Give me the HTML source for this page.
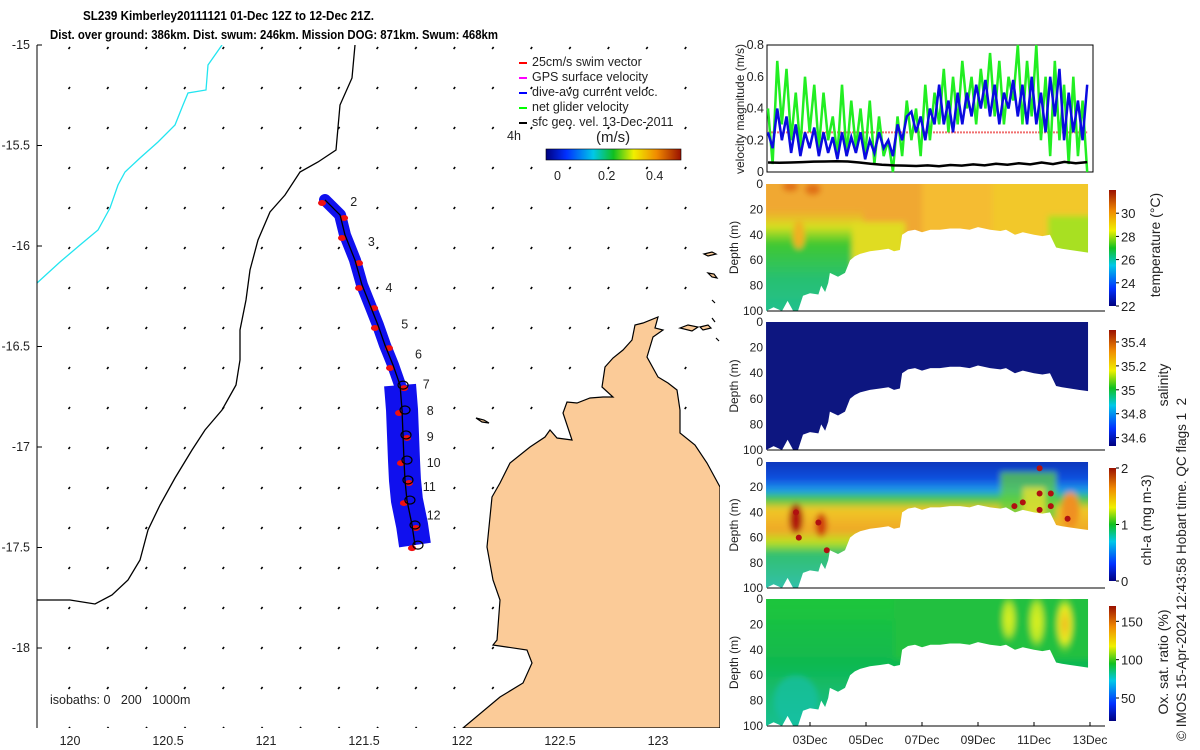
<!DOCTYPE html>
<html><head><meta charset="utf-8"><title>SL239 Kimberley glider</title>
<style>
html,body{margin:0;padding:0;background:#fff;}
svg{display:block;font-family:"Liberation Sans",sans-serif;}
text{fill:#222;}
</style></head>
<body>
<svg id="fig" width="1200" height="750" viewBox="0 0 1200 750">
<defs>
<filter id="blur" x="-5%" y="-5%" width="110%" height="110%"><feGaussianBlur stdDeviation="3"/></filter>
<linearGradient id="jet" x1="0" y1="0" x2="1" y2="0">
<stop offset="0" stop-color="#00007f"/><stop offset="0.15" stop-color="#0030ff"/><stop offset="0.35" stop-color="#00c8e8"/><stop offset="0.5" stop-color="#10c020"/><stop offset="0.65" stop-color="#f0f000"/><stop offset="0.82" stop-color="#f08a00"/><stop offset="1" stop-color="#9a1000"/>
</linearGradient>
<linearGradient id="jetv" x1="0" y1="1" x2="0" y2="0">
<stop offset="0" stop-color="#00007f"/><stop offset="0.15" stop-color="#0030ff"/><stop offset="0.35" stop-color="#00c8e8"/><stop offset="0.5" stop-color="#10c020"/><stop offset="0.65" stop-color="#f0f000"/><stop offset="0.82" stop-color="#f08a00"/><stop offset="1" stop-color="#9a1000"/>
</linearGradient>
<linearGradient id="tempEarly" x1="0" y1="0" x2="0" y2="1">
<stop offset="0" stop-color="#e0d020" stop-opacity="0"/><stop offset="0.15" stop-color="#d8e020"/><stop offset="0.3" stop-color="#40c830"/><stop offset="0.6" stop-color="#28c070"/><stop offset="1" stop-color="#20c098"/>
</linearGradient>
<linearGradient id="chlGrad" x1="0" y1="0" x2="0" y2="1">
<stop offset="0" stop-color="#0828a8"/><stop offset="0.18" stop-color="#1050e0"/><stop offset="0.26" stop-color="#20a0e8"/><stop offset="0.31" stop-color="#40c850"/><stop offset="0.38" stop-color="#f0c828"/><stop offset="0.52" stop-color="#f0a828"/><stop offset="0.6" stop-color="#c0e020"/><stop offset="0.68" stop-color="#30c070"/><stop offset="1" stop-color="#30c0c0"/>
</linearGradient>
<linearGradient id="oxGrad" x1="0" y1="0" x2="0" y2="1">
<stop offset="0" stop-color="#20c838"/><stop offset="0.5" stop-color="#10b850"/><stop offset="1" stop-color="#18c0a0"/>
</linearGradient>
<radialGradient id="oxBlob"><stop offset="0" stop-color="#f0b020"/><stop offset="0.55" stop-color="#e8f020"/><stop offset="1" stop-color="#30c840" stop-opacity="0"/></radialGradient>
<radialGradient id="oxBlob2"><stop offset="0" stop-color="#e0f020"/><stop offset="0.6" stop-color="#b8e828"/><stop offset="1" stop-color="#30c840" stop-opacity="0"/></radialGradient>
<clipPath id="mapClip"><rect x="37" y="45" width="683" height="683"/></clipPath>
</defs>

<!-- Title -->
<text x="83" y="20" font-size="13" font-weight="bold" textLength="291" lengthAdjust="spacingAndGlyphs" style="fill:#000">SL239 Kimberley20111121 01-Dec 12Z to 12-Dec 21Z.</text>
<text x="50" y="39" font-size="13" font-weight="bold" textLength="448" lengthAdjust="spacingAndGlyphs" style="fill:#000">Dist. over ground: 386km. Dist. swum: 246km. Mission DOG: 871km. Swum: 468km</text>

<!-- MAP -->
<g id="map">
<g clip-path="url(#mapClip)">
<g id="quiver"></g>
<path fill="#fbcb98" stroke="#000" stroke-width="1.2" d="M463,728 L500,697 L523,683 L532,663 L527,650 L493,645 L497,640 L500,600 L493,580 L487,547 L492,497 L500,483 L510,463 L530,447 L545,437 L550,430 L557,438 L572,440 L563,413 L567,402 L577,403 L590,398 L603,397 L613,397 L602,387 L605,367 L613,358 L623,350 L632,340 L635,325 L643,323 L658,317 L655,328 L663,330 L653,337 L647,357 L658,377 L668,383 L677,390 L680,410 L680,433 L695,445 L707,463 L720,487 L720,728 Z"/>
<g fill="#fbcb98" stroke="#000" stroke-width="1.2">
<path d="M680,328 l8,-3 l10,2 l-6,4 z M700,327 l8,-2 l3,3 l-8,2 z M704,254 l8,-2 l4,2 l-8,2 z M708,273 l6,1 l3,4 l-5,-1 z M476,418 l8,2 l5,3 l-7,-1 z M712,300 l3,3 z M712,318 l3,4 z M716,338 l3,3 z"/>
</g>
<path fill="none" stroke="#000" stroke-width="1.3" d="M355,45 L352,78 L340,105 L336,150 L318,162 L300,172 L285,195 L270,212 L258,240 L250,270 L246,300 L240,330 L240,360 L236,385 L222,410 L205,430 L192,450 L175,478 L160,505 L148,530 L140,560 L128,580 L112,595 L95,604 L70,600 L37,600"/>
<path fill="none" stroke="#22e5f0" stroke-width="1.3" d="M222,45 L208,65 L206,90 L188,93 L183,105 L175,125 L158,142 L140,158 L125,172 L118,185 L110,208 L98,230 L80,245 L60,262 L37,283"/>
<g id="track"></g>
</g>
<line x1="37" y1="45" x2="37" y2="728" stroke="#000"/>
<g id="mapTicks" font-size="12.5"></g>
<text x="50" y="704" font-size="12.5">isobaths: 0&#160;&#160;&#160;200&#160;&#160;&#160;1000m</text>
<!-- legend -->
<g font-size="12.5">
<line x1="519" y1="63" x2="527" y2="63" stroke="#f00" stroke-width="2"/><text x="532" y="66">25cm/s swim vector</text>
<line x1="519" y1="78" x2="527" y2="78" stroke="#f0f" stroke-width="2"/><text x="532" y="81">GPS surface velocity</text>
<line x1="519" y1="93" x2="527" y2="93" stroke="#00f" stroke-width="2"/><text x="532" y="96">dive-avg current veloc.</text>
<line x1="519" y1="108" x2="527" y2="108" stroke="#0f0" stroke-width="2"/><text x="532" y="111">net glider velocity</text>
<line x1="519" y1="123" x2="527" y2="123" stroke="#000" stroke-width="2"/><text x="532" y="126">sfc geo. vel. 13-Dec-2011</text>
<text x="507" y="140">4h</text>
</g>
<g>
<text x="596" y="142" font-size="15">(m/s)</text>
<rect x="546" y="149" width="135" height="11" fill="url(#jet)" stroke="#000" stroke-width="0.6"/>
<text x="554" y="180" font-size="12.5">0</text><text x="598" y="180" font-size="12.5">0.2</text><text x="646" y="180" font-size="12.5">0.4</text>
</g>
</g>

<!-- VELOCITY PANEL -->
<g id="vel">
<rect x="767" y="45" width="326" height="127" fill="#fff" stroke="#000"/>
<g id="velSeries"></g>
<g id="velTicks" font-size="12.5"></g>
<text transform="translate(744,109) rotate(-90)" text-anchor="middle" font-size="12">velocity magnitude (m/s)</text>
</g>

<!-- DEPTH PANELS -->
<g id="panels"></g>

<!-- right side labels -->
<text transform="translate(1160,245) rotate(-90)" text-anchor="middle" font-size="14">temperature (°C)</text>
<text transform="translate(1168,385) rotate(-90)" text-anchor="middle" font-size="14">salinity</text>
<text transform="translate(1151,520) rotate(-90)" text-anchor="middle" font-size="14">chl-a (mg m-3)</text>
<text transform="translate(1168,662) rotate(-90)" text-anchor="middle" font-size="14">Ox. sat. ratio (%)</text>
<text transform="translate(1186,741) rotate(-90)" font-size="13.5">© IMOS 15-Apr-2024 12:43:58 Hobart time. QC flags 1&#160;&#160;2</text>
</svg>

<script>
// ---------- Velocity data (m/s), evenly spaced from 1-Dec 12Z to 12-Dec 21Z ----------
const velStartDay = 1.5, velEndDay = 12.9;
const netGliderVel = [0.40,0.05,0.70,0.30,0.65,0.20,0.50,0.15,0.60,0.25,0.55,0.15,0.50,0.20,0.35,0.10,0.55,0.10,0.45,0.15,0.40,0.10,0.45,0.05,0.35,0.10,0.20,0.00,0.35,0.10,0.45,0.20,0.40,0.10,0.55,0.20,0.50,0.30,0.65,0.25,0.60,0.30,0.70,0.40,0.60,0.30,0.65,0.40,0.75,0.35,0.70,0.30,0.60,0.45,0.80,0.30,0.70,0.35,0.80,0.20,0.60,0.10,0.70,0.20,0.55,0.05,0.60,0.10,0.45,0.00];
const diveAvgVel = [0.25,0.15,0.40,0.20,0.35,0.12,0.30,0.10,0.25,0.15,0.28,0.10,0.25,0.12,0.22,0.08,0.25,0.10,0.22,0.12,0.25,0.08,0.20,0.12,0.25,0.15,0.20,0.10,0.30,0.20,0.35,0.38,0.25,0.35,0.20,0.40,0.30,0.55,0.30,0.45,0.25,0.50,0.30,0.50,0.35,0.55,0.40,0.58,0.35,0.55,0.30,0.50,0.40,0.58,0.35,0.55,0.30,0.60,0.30,0.50,0.25,0.60,0.35,0.65,0.20,0.50,0.25,0.45,0.20,0.55];
const sfcGeoVel = [0.060,0.058,0.060,0.062,0.065,0.066,0.068,0.066,0.060,0.052,0.046,0.042,0.040,0.038,0.042,0.036,0.044,0.040,0.048,0.042,0.052,0.046,0.055,0.048,0.060,0.050,0.064,0.055,0.062];
const swimVel = 0.25;
const velTickLabels = ["0","0.2","0.4","0.6","0.8"];
const velTickValues = [0,0.2,0.4,0.6,0.8];

// ---------- Depth-section data ----------
const profileDays = [1.43,1.7,2.0,2.2,2.4,2.57,2.75,3.0,3.3,3.4,3.54,3.65,3.71,4.0,4.25,4.43,4.6,4.79,5.14,5.5,5.8,6.0,6.21,6.29,6.5,6.75,7.0,7.3,7.64,8.0,8.36,8.7,9.0,9.43,9.8,10.0,10.32,10.6,11.0,11.3,11.57,11.79,12.0,12.29,12.6,12.93];
const profileMaxDepth = [100,97,100,92,100,100,88,86,87,80,85,78,70,73,70,60,57,55,53,52,51,53,52,40,37,36,38,36,36,35,35,36,34,36,37,36,40,38,40,41,40,50,51,52,53,54];
const dateTickDays = [3,5,7,9,11,13];
const dateTickLabels = ["03Dec","05Dec","07Dec","09Dec","11Dec","13Dec"];
const depthTickValues = [0,20,40,60,80,100];
const tempTicks = [22,24,26,28,30];
const salTicks = [34.6,34.8,35,35.2,35.4];
const chlTicks = [0,1,2];
const oxTicks = [50,100,150];

// ---------- Map data ----------
const trackLon = [121.301,121.378,121.403,121.454,121.490,121.531,121.571,121.607,121.648,121.684,121.694,121.699,121.704,121.709,121.719,121.745,121.760];
const trackLat = [-15.771,-15.846,-15.945,-16.070,-16.194,-16.294,-16.393,-16.493,-16.592,-16.692,-16.816,-16.940,-17.065,-17.164,-17.264,-17.388,-17.488];
const dayLabels = ["2","3","4","5","6","7","8","9","10","11","12"];
const dayLabelLon = [121.43,121.52,121.61,121.69,121.76,121.80,121.82,121.82,121.82,121.80,121.82];
const dayLabelLat = [-15.80,-16.00,-16.23,-16.41,-16.56,-16.71,-16.84,-16.97,-17.10,-17.22,-17.36];
const lonTicks = [120,120.5,121,121.5,122,122.5,123];
const latTicks = [-15,-15.5,-16,-16.5,-17,-17.5,-18];

const NS = "http://www.w3.org/2000/svg";
function mk(tag, attrs, parent){ const e=document.createElementNS(NS,tag); for(const k in attrs) e.setAttribute(k,attrs[k]); if(parent) parent.appendChild(e); return e; }

const lonX = lon => 70 + (lon-120)*196;
const latY = lat => 45 + (-15-lat)*201;
const dayX = d => 810 + (d-3)*28;
const velY = v => 172 - v*(127/0.8);

// ---------- map ticks ----------
const mt = document.getElementById('mapTicks');
lonTicks.forEach(l=>{
  const t = mk('text',{x:lonX(l),y:745,'text-anchor':'middle'},mt);
  
  
  t.textContent = String(l);
});
latTicks.forEach(l=>{
  const t = mk('text',{x:30,y:latY(l)+4,'text-anchor':'end'},mt);
  
  
  t.textContent = String(l);
  mk('line',{x1:37,y1:latY(l),x2:42,y2:latY(l),stroke:'#000'},mt);
});

const q = document.getElementById('quiver');
for(let lon=120.0; lon<123.4; lon+=0.1965){
  for(let lat=-15.01; lat>-18.4; lat-=0.199){
    const x=lonX(lon), y=latY(lat);
    const d = mk('line',{x1:x,y1:y,x2:x-1.5,y2:y+2,stroke:'#000','stroke-width':1.6},q);
    
    
  }
}

// track
const tr = document.getElementById('track');
const tp = trackLon.map((l,i)=>[lonX(l),latY(trackLat[i])]);
const ptsStr = tp.map(p=>p.join(',')).join(' ');
const upper = tp.slice(0,10).map(p=>p.join(',')).join(' ');
const lower = tp.slice(9).map(p=>p.join(',')).join(' ');
let e;
e = mk('polyline',{points:upper,fill:'none',stroke:'#1010ee','stroke-width':12,'stroke-linejoin':'round','stroke-linecap':'round'},tr);


e = mk('polyline',{points:lower,fill:'none',stroke:'#1010ee','stroke-width':32,'stroke-linejoin':'round'},tr);


tp.forEach((p,i)=>{
  const r = mk('ellipse',{cx:p[0]+(i%2?4:-3),cy:p[1]+3,rx:4,ry:3,fill:'#f01010'},tr);
  
  
});
e = mk('polyline',{points:ptsStr,fill:'none',stroke:'#000','stroke-width':1.3},tr);


tp.slice(9).forEach(p=>{
  const c = mk('ellipse',{cx:p[0]+3,cy:p[1],rx:5,ry:4,fill:'none',stroke:'#000','stroke-width':1.2},tr);
  
  
});
dayLabels.forEach((s,i)=>{
  const t = mk('text',{x:lonX(dayLabelLon[i]),y:latY(dayLabelLat[i]),'font-size':12.5},tr);
  
  
  t.textContent = s;
});

// ---------- velocity panel ----------
const vs = document.getElementById('velSeries');
function seriesPts(arr, t0, t1){ return arr.map((v,i)=>dayX(t0+(t1-t0)*i/(arr.length-1))+','+velY(v)).join(' '); }
e = mk('line',{x1:dayX(velStartDay),y1:velY(swimVel),x2:dayX(velEndDay),y2:velY(swimVel),stroke:'#f07070','stroke-width':2,'stroke-dasharray':'2,1'},vs);


e = mk('polyline',{points:seriesPts(netGliderVel,velStartDay,velEndDay),fill:'none',stroke:'#22ee22','stroke-width':2.5},vs);


e = mk('polyline',{points:seriesPts(diveAvgVel,velStartDay,velEndDay),fill:'none',stroke:'#0a0ae0','stroke-width':2.5},vs);


e = mk('polyline',{points:seriesPts(sfcGeoVel,velStartDay,velEndDay),fill:'none',stroke:'#000','stroke-width':2.5},vs);


const vt = document.getElementById('velTicks');
velTickValues.forEach((v,i)=>{
  const t = mk('text',{x:764,y:velY(v)+4,'text-anchor':'end'},vt);
  
  
  t.textContent = velTickLabels[i];
});

// ---------- depth panels ----------
const panels = document.getElementById('panels');
const panelDefs = [
  {name:'temperature', y0:184, y1:311, ticks:tempTicks, vmin:22, vmax:32, cbTop:190, cbBot:306},
  {name:'salinity', y0:322, y1:450, ticks:salTicks, vmin:34.53, vmax:35.5, cbTop:330, cbBot:446},
  {name:'chl', y0:462, y1:588, ticks:chlTicks, vmin:0, vmax:2, cbTop:468, cbBot:581},
  {name:'oxygen', y0:599, y1:726, ticks:oxTicks, vmin:20, vmax:170, cbTop:606, cbBot:721}
];
panelDefs.forEach((P,pi)=>{
  const g = mk('g',{},panels);
  
  
  const depY = d => P.y0 + d*(P.y1-P.y0)/100;
  const cid = 'clip'+pi;
  const cp = mk('clipPath',{id:cid},g);
  let pts = dayX(profileDays[0])+','+P.y0+' '+dayX(profileDays[profileDays.length-1])+','+P.y0+' ';
  for(let i=profileDays.length-1;i>=0;i--) pts += dayX(profileDays[i])+','+depY(profileMaxDepth[i])+' ';
  mk('polygon',{points:pts},cp);
  const outer = mk('g',{'clip-path':'url(#'+cid+')'},g);
  
  
  const f = mk('g',{filter:'url(#blur)'},outer);
  const X0=dayX(1.0), W=dayX(13.5)-X0;
  const Y0=P.y0-10;
  if(P.name==='temperature'){
    mk('rect',{x:X0,y:Y0,width:W,height:150,fill:'#f0a830'},f);
    mk('rect',{x:dayX(7),y:Y0,width:dayX(13.5)-dayX(7),height:150,fill:'#f5bc30'},f);
    mk('rect',{x:dayX(9.5),y:Y0,width:dayX(13.5)-dayX(9.5),height:150,fill:'#f2c82a'},f);
    mk('rect',{x:X0,y:depY(20),width:dayX(4.9)-X0,height:depY(110)-depY(20),fill:'url(#tempEarly)'},f);
    mk('rect',{x:dayX(4.5),y:depY(30),width:dayX(6.4)-dayX(4.5),height:depY(65)-depY(30),fill:'#e0dc20'},f);
    mk('rect',{x:dayX(11.5),y:depY(25),width:dayX(13.5)-dayX(11.5),height:depY(65)-depY(25),fill:'#a8e020'},f);
    mk('ellipse',{cx:dayX(2.3),cy:depY(2),rx:8,ry:5,fill:'#e07018'},f);
    mk('ellipse',{cx:dayX(3.1),cy:depY(4),rx:8,ry:6,fill:'#e07018'},f);
    mk('ellipse',{cx:dayX(2.6),cy:depY(40),rx:6,ry:14,fill:'#f0b020'},f);
  } else if(P.name==='salinity'){
    mk('rect',{x:X0,y:Y0,width:W,height:150,fill:'#0a1680'},f);
  } else if(P.name==='chl'){
    mk('rect',{x:X0,y:Y0,width:W,height:150,fill:'url(#chlGrad)'},f);
    mk('rect',{x:dayX(9.8),y:depY(8),width:dayX(11.8)-dayX(9.8),height:depY(45)-depY(8),fill:'#60d040',opacity:0.75},f);
    mk('rect',{x:dayX(10.6),y:depY(20),width:dayX(11.4)-dayX(10.6),height:depY(45)-depY(20),fill:'#e8e030',opacity:0.8},f);
    mk('ellipse',{cx:dayX(12.3),cy:depY(38),rx:9,ry:18,fill:'#f09020'},f);
    mk('ellipse',{cx:dayX(2.5),cy:depY(45),rx:7,ry:15,fill:'#b01808'},f);
    mk('ellipse',{cx:dayX(3.4),cy:depY(50),rx:6,ry:12,fill:'#d04010'},f);
  } else {
    mk('rect',{x:X0,y:Y0,width:W,height:150,fill:'url(#oxGrad)'},f);
    mk('rect',{x:dayX(6),y:Y0,width:W,height:70,fill:'#20c040'},f);
    mk('ellipse',{cx:dayX(2.5),cy:depY(80),rx:22,ry:25,fill:'#18c0a8',opacity:0.7},f);
    mk('ellipse',{cx:dayX(10.1),cy:depY(16),rx:9,ry:26,fill:'url(#oxBlob2)'},f);
    mk('ellipse',{cx:dayX(11.1),cy:depY(18),rx:10,ry:30,fill:'url(#oxBlob2)'},f);
    mk('ellipse',{cx:dayX(12.1),cy:depY(20),rx:11,ry:32,fill:'url(#oxBlob)'},f);
  }
  if(P.name==='chl'){
    [[10.3,35],[10.6,32],[11.2,5],[11.2,25],[11.2,38],[11.6,35],[11.6,25],[12.2,45],[3.6,70],[2.6,60],[2.5,40],[3.3,48]].forEach(b=>{
      const c = mk('circle',{cx:dayX(b[0]),cy:depY(b[1]),r:3,fill:'#b01010'},outer);
      
      
    });
  }
  mk('line',{x1:767,y1:P.y1,x2:1105,y2:P.y1,stroke:'#000'},g);
  if(pi===3){
    dateTickDays.forEach((d,i)=>{
      mk('line',{x1:dayX(d),y1:P.y1,x2:dayX(d),y2:P.y1-4,stroke:'#000'},g);
      const t = mk('text',{x:dayX(d),y:744,'text-anchor':'middle','font-size':12},g);
      
      
      t.textContent = dateTickLabels[i];
    });
  }
  depthTickValues.forEach(d=>{
    const t = mk('text',{x:763,y:depY(d)+4,'text-anchor':'end','font-size':12},g);
    
    
    t.textContent = String(d);
  });
  const yl = mk('text',{transform:'translate(738,'+((P.y0+P.y1)/2)+') rotate(-90)','text-anchor':'middle','font-size':12},g);
  
  
  yl.textContent = 'Depth (m)';
  const cb = mk('rect',{x:1109,y:P.cbTop,width:7,height:P.cbBot-P.cbTop,fill:'url(#jetv)'},g);
  
  
  const cbY = v => P.cbBot - (v-P.vmin)/(P.vmax-P.vmin)*(P.cbBot-P.cbTop);
  P.ticks.forEach(v=>{
    mk('line',{x1:1116,y1:cbY(v),x2:1119,y2:cbY(v),stroke:'#000'},g);
    const t = mk('text',{x:1121,y:cbY(v)+5,'font-size':13},g);
    
    
    t.textContent = String(v);
  });
});
</script>
</body></html>
